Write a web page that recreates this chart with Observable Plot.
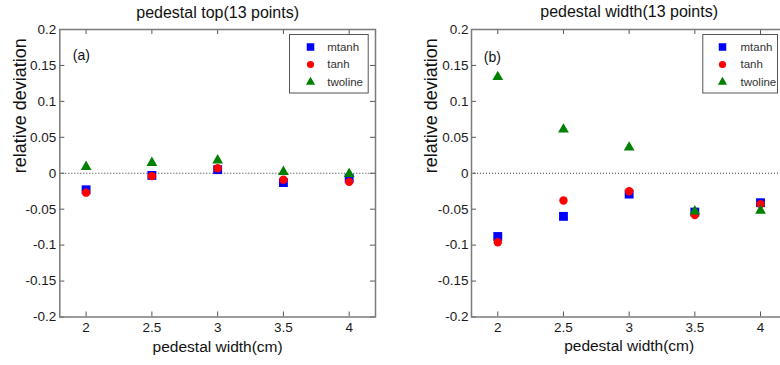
<!DOCTYPE html>
<html>
<head>
<meta charset="utf-8">
<script src="https://cdn.jsdelivr.net/npm/d3@7"></script>
<script src="https://cdn.jsdelivr.net/npm/@observablehq/plot@0.6"></script>
<style>
  html, body { margin: 0; padding: 0; background: #fff; overflow: hidden; }
  #wrap { position: relative; width: 780px; height: 365px; overflow: hidden; }
  #wrap svg { position: absolute; top: 0; }
</style>
</head>
<body>
<div id="wrap"></div>
<script>
const xTicks = [2, 2.5, 3, 3.5, 4];
const yTicks = [-0.2, -0.15, -0.1, -0.05, 0, 0.05, 0.1, 0.15, 0.2];
const seriesNames = ["mtanh", "tanh", "twoline"];

// panel (a): pedestal top
const topMtanh   = [-0.023, -0.003, 0.005, -0.013, -0.007];
const topTanh    = [-0.027, -0.004, 0.007, -0.009, -0.012];
const topTwoline = [0.009, 0.0145, 0.018, 0.002, -0.001];

// panel (b): pedestal width
const widthMtanh   = [-0.088, -0.060, -0.029, -0.054, -0.041];
const widthTanh    = [-0.096, -0.038, -0.025, -0.058, -0.043];
const widthTwoline = [0.134, 0.061, 0.036, -0.053, -0.052];

const styles = {
  mtanh:   { symbol: "square",   fill: "#0000ff", r: 5.0 },
  tanh:    { symbol: "circle",   fill: "#ff0000", r: 4.2 },
  twoline: { symbol: "triangle", fill: "#008000", r: 4.0 }
};

function panel({ title, tag, series, width, marginLeft, marginRight, left, tagDx, tagDy, legDx, legText, legInsetLeft, legInsetRight, tickDx }) {
  const height = 365, marginTop = 29, marginBottom = 48.5;
  const W = width - marginLeft - marginRight;
  const H = height - marginTop - marginBottom;
  const rows = xTicks.flatMap((x, i) => seriesNames.map((s, k) => ({ x, y: series[k][i], s })));
  const marks = [
    Plot.ruleY([0], { stroke: "#333", strokeWidth: 1, strokeDasharray: "1,2" }),
    ...seriesNames.map(s => Plot.dot(rows.filter(d => d.s === s), {
      x: "x", y: "y", symbol: styles[s].symbol, fill: styles[s].fill, r: styles[s].r, stroke: "none"
    })),
    // ticks inside frame
    Plot.tickX(xTicks, { x: d => d, insetTop: H - 5, stroke: "#555", strokeWidth: 1 }),
    Plot.tickX(xTicks, { x: d => d, insetBottom: H - 5, stroke: "#555", strokeWidth: 1 }),
    Plot.tickY(yTicks, { y: d => d, insetRight: W - 5, stroke: "#555", strokeWidth: 1 }),
    Plot.tickY(yTicks, { y: d => d, insetLeft: W - 5, stroke: "#555", strokeWidth: 1 }),
    Plot.frame({ stroke: "#7a7a7a", strokeWidth: 1.5 }),
    // tick labels
    Plot.text(xTicks, { x: d => d, frameAnchor: "bottom", dy: 10.5, lineAnchor: "middle", text: d => String(d), fontSize: 13.5, fill: "#1a1a1a" }),
    Plot.text(yTicks, { y: d => d, frameAnchor: "left", dx: tickDx, textAnchor: "end", lineAnchor: "middle", text: d => String(+d.toFixed(2)), fontSize: 13.5, fill: "#1a1a1a" }),
    // title and axis labels
    Plot.text([title], { frameAnchor: "top", dy: -12, lineAnchor: "bottom", text: d => d, fontSize: 16, fill: "#111" }),
    Plot.text(["pedestal width(cm)"], { frameAnchor: "bottom", dy: 34.5, lineAnchor: "bottom", text: d => d, fontSize: 15.5, fill: "#111" }),
    Plot.text(["relative deviation"], { frameAnchor: "left", dx: -40, rotate: -90, lineAnchor: "middle", text: d => d, fontSize: 18, fill: "#111" }),
    Plot.text([tag], { frameAnchor: "top-left", dx: tagDx, dy: tagDy, textAnchor: "start", lineAnchor: "middle", text: d => d, fontSize: 14, fill: "#111" }),
    // legend
    Plot.frame({ fill: "white", stroke: "#555", strokeWidth: 1, insetLeft: legInsetLeft, insetRight: legInsetRight, insetTop: 5, insetBottom: H - 63.5 }),
    ...seriesNames.flatMap((s, i) => [
      Plot.dot([s], { frameAnchor: "top-right", dx: legDx, dy: 17.5 + 17.5 * i, symbol: styles[s].symbol, fill: styles[s].fill, r: styles[s].r * 0.85, stroke: "none" }),
      Plot.text([s], { frameAnchor: "top-right", dx: legText, dy: 17.5 + 17.5 * i, textAnchor: "start", lineAnchor: "middle", text: d => d, fontSize: 11.5, fill: "#333" })
    ])
  ];
  const svg = Plot.plot({
    width, height, marginLeft, marginRight, marginTop, marginBottom,
    x: { domain: [1.8, 4.2], axis: null },
    y: { domain: [-0.2, 0.2], axis: null },
    style: { fontFamily: "'Liberation Sans', Arial, sans-serif", background: "transparent", overflow: "visible" },
    marks
  });
  svg.style.left = left + "px";
  return svg;
}

const wrap = document.getElementById("wrap");
wrap.append(panel({
  title: "pedestal top(13 points)", tag: "(a)",
  series: [topMtanh, topTanh, topTwoline],
  width: 390, marginLeft: 59.3, marginRight: 15, left: 0,
  tagDx: 13, tagDy: 26, legDx: -65, legText: -48.3, legInsetLeft: 229.7, legInsetRight: 7.3, tickDx: -3.5
}));
wrap.append(panel({
  title: "pedestal width(13 points)", tag: "(b)",
  series: [widthMtanh, widthTanh, widthTwoline],
  width: 396.3, marginLeft: 81, marginRight: 0, left: 390,
  tagDx: 12.3, tagDy: 28.5, legDx: -64.3, legText: -46.3, legInsetLeft: 231.3, legInsetRight: 9.3, tickDx: -3
}));
</script>
</body>
</html>
